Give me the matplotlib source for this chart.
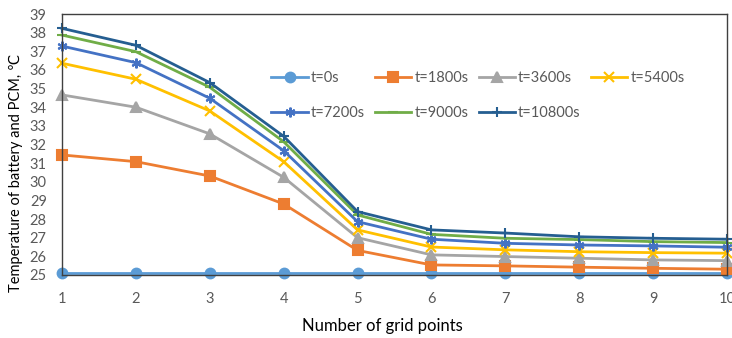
import matplotlib
matplotlib.use('Agg')
from matplotlib import pyplot as plt

plt.rcParams['font.family'] = ['Lato', 'DejaVu Sans']

# dane
grid_points = [1, 2, 3, 4, 5, 6, 7, 8, 9, 10]
t0 = [25.1, 25.1, 25.1, 25.1, 25.1, 25.1, 25.1, 25.1, 25.1, 25.1]
t1800 = [31.44, 31.08, 30.31, 28.81, 26.32, 25.54, 25.49, 25.42, 25.36, 25.31]
t3600 = [34.66, 34.0, 32.57, 30.24, 27.0, 26.08, 25.99, 25.9, 25.81, 25.77]
t5400 = [36.36, 35.5, 33.8, 31.08, 27.42, 26.5, 26.35, 26.25, 26.2, 26.17]
t7200 = [37.28, 36.39, 34.48, 31.67, 27.86, 26.92, 26.7, 26.61, 26.56, 26.49]
t9000 = [37.87, 36.98, 35.07, 32.15, 28.22, 27.18, 26.97, 26.9, 26.79, 26.74]
t10800 = [38.23, 37.32, 35.32, 32.44, 28.4, 27.42, 27.25, 27.05, 26.97, 26.92]

series = [
    ('t=0s', t0, '#5B9BD5', 'o'),
    ('t=1800s', t1800, '#ED7D31', 's'),
    ('t=3600s', t3600, '#A5A5A5', '^'),
    ('t=5400s', t5400, '#FFC000', 'x'),
    ('t=7200s', t7200, '#4472C4', (6, 2, 0)),
    ('t=9000s', t9000, '#70AD47', '_'),
    ('t=10800s', t10800, '#255E91', '+'),
]

fig = plt.figure(figsize=(7.32, 3.38), dpi=100)
ax = fig.add_axes([62 / 732, 1 - 275 / 338, 665 / 732, 261 / 338])

for label, vals, color, marker in series:
    ax.plot(grid_points, vals, color=color, marker=marker, markersize=7,
            markeredgewidth=1.5, linewidth=2, label=label, clip_on=False)

ax.set_xlim(1, 10)
ax.set_ylim(25, 39)
ax.set_xticks(grid_points)
ax.set_yticks(range(25, 40))
ax.tick_params(length=0, labelsize=10.5, labelcolor='#595959')
ax.tick_params(axis='y', pad=11)
ax.tick_params(axis='x', pad=12)
for s in ax.spines.values():
    s.set_color('#404040')
    s.set_linewidth(1)

ax.set_xlabel('Number of grid points', fontsize=12)
ax.xaxis.set_label_coords((382 - 62) / 665, -(318 - 275) / 261)
ax.set_ylabel('Temperature of battery and PCM, \u2103', fontsize=10.5)
ax.yaxis.set_label_coords((23 - 62) / 665, (275 - 173) / 261)

# legenda - kolejnosc wierszami
handles, labels = ax.get_legend_handles_labels()
order = [0, 4, 1, 5, 2, 6, 3]
ax.legend([handles[i] for i in order], [labels[i] for i in order],
          loc='upper left', bbox_to_anchor=(264 / 732, 1 - 64 / 338),
          bbox_transform=fig.transFigure, ncol=4, frameon=False,
          fontsize=10.5, handlelength=2.5, handletextpad=0.2,
          columnspacing=0.7, labelspacing=1.4, borderpad=0, labelcolor='#595959')

plt.savefig('out.png', dpi=100)
